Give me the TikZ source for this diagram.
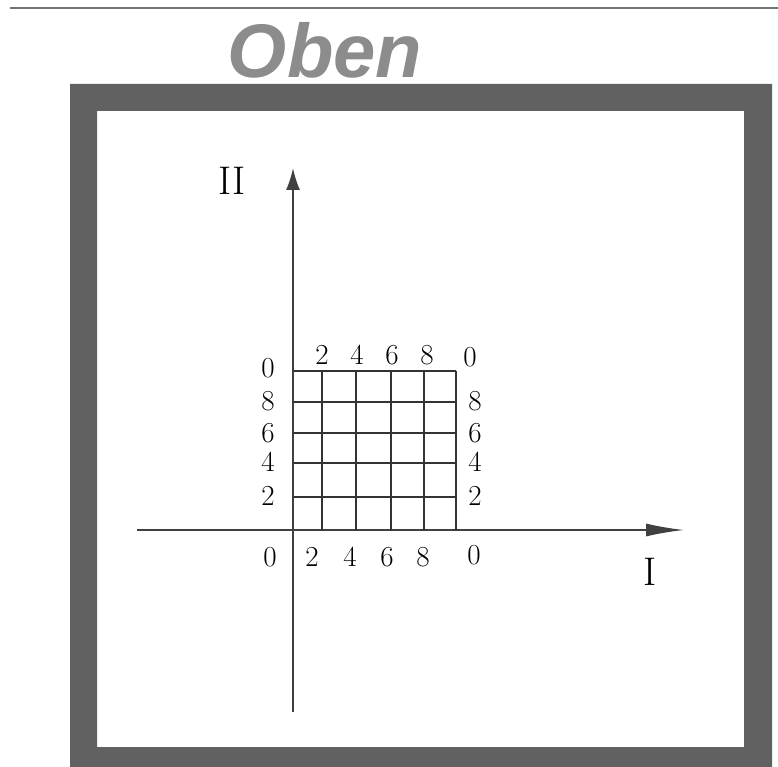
\documentclass[tikz,border=0pt]{standalone}
\usepackage{xcolor}
\usepackage{fontspec}
\newfontfamily\titlefont{Liberation Sans}
\usetikzlibrary{arrows.meta}

\begin{document}
\begin{tikzpicture}[x=1pt,y=-1pt,
    num/.style={font=\fontsize{29}{29}\selectfont, inner sep=0pt, text height=19pt, text depth=0pt},
    roman/.style={font=\fontsize{40}{40}\selectfont, inner sep=0pt},
    gridline/.style={line width=2pt, black!80},
    axis/.style={line width=1.6pt, black!75}]
    \useasboundingbox (0,0) rectangle (778,767);
    % top edge of the sheet
    \draw[line width=2pt, black!55] (10,8) -- (778,8);
    % title
    \node[font=\titlefont\fontsize{76}{76}\selectfont\bfseries\itshape, text=black!45, inner sep=0pt] (title) at (325,50) {Oben};
    % thick frame
    \fill[black!62, even odd rule] (70,84) rectangle (772,767) (97,111) rectangle (744,747);
    % axes
    \coordinate (O) at (293,530);
    \coordinate (xl) at (137,530);
    \coordinate (xr) at (684,530);
    \coordinate (yb) at (293,712);
    \coordinate (yt) at (293,168);
    \draw[axis, -{Latex[length=38pt,width=13pt]}] (xl) -- (xr);
    \draw[axis, -{Latex[length=22pt,width=14pt]}] (yb) -- (yt);
    \node[roman] (axisI) at (650,572) {I};
    \node[roman] (axisII) at (232,181) {II};
    % grid
    \foreach \x in {322,356,391,424,456}
        \draw[gridline] (\x,371) -- (\x,531);
    \foreach \y in {371,402,433,463,497}
        \draw[gridline] (293,\y) -- (456,\y);
    % numbers along the grid
    \foreach \x/\d in {322/2,357/4,392/6,427/8}
        \node[num] (top\d) at (\x,355) {\d};
    \node[num] (top0) at (470,357) {0};
    \node[num] (left0) at (268,368) {0};
    \foreach \y/\d in {401/8,433/6,462/4,496/2} {
        \node[num] (left\d) at (268,\y) {\d};
        \node[num] (right\d) at (475,\y) {\d};
    }
    \foreach \x/\d in {312/2,350/4,387/6,423/8}
        \node[num] (bot\d) at (\x,557) {\d};
    \node[num] (bot0) at (270,557) {0};
    \node[num] (botr0) at (474,555) {0};
\end{tikzpicture}
\end{document}
